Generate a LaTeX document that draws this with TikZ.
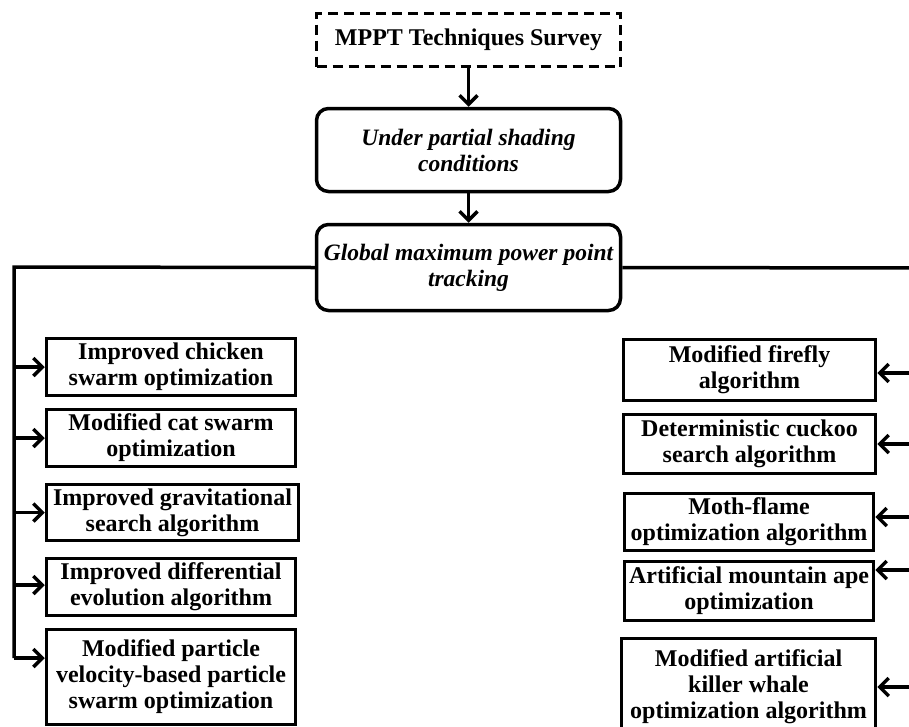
\documentclass[tikz,border=0pt]{standalone}
\usepackage{fontspec}
\setmainfont{Liberation Serif}
\usetikzlibrary{arrows.meta}
\begin{document}
\begin{tikzpicture}[x=1pt,y=-1pt,
  box/.style={draw, line width=3.5pt, align=center, inner sep=0pt, fill=white,
    font=\fontsize{24}{26}\selectfont\bfseries},
  rbox/.style={box, rounded corners=12pt, font=\fontsize{23.5}{26}\selectfont\bfseries\itshape},
  arr/.style={line width=3.5pt, -{Straight Barb[length=9pt,width=18pt]}},
  ln/.style={line width=3.5pt}]
\clip (0,0) rectangle (909,726);
\fill[white] (0,0) rectangle (909,726);

% top column
\node[box, dash pattern=on 10pt off 6pt, minimum width=304pt, minimum height=53pt] (mppt) at (468.5,40) {MPPT Techniques Survey};
\node[rbox, minimum width=304pt, minimum height=83pt] (under) at (468.5,150) {Under partial shading\\conditions};
\node[rbox, minimum width=304pt, minimum height=86pt] (glob) at (468.5,267.5) {Global maximum power point\\tracking};
\draw[arr] (mppt) -- (under);
\draw[arr] (under) -- (glob);

% left column
\node[box, minimum width=249pt, minimum height=57pt] (L1) at (171,367) {Improved chicken\\swarm optimization};
\node[box, minimum width=249pt, minimum height=57pt] (L2) at (171,438) {Modified cat swarm\\optimization};
\node[box, minimum width=252pt, minimum height=56pt] (L3) at (172.5,512.5) {Improved gravitational\\search algorithm};
\node[box, minimum width=249pt, minimum height=57pt] (L4) at (171,587) {Improved differential\\evolution algorithm};
\node[box, minimum width=249pt, minimum height=95pt] (L5) at (171,677) {Modified particle\\velocity-based particle\\swarm optimization};

% right column
\node[box, minimum width=252pt, minimum height=61pt] (R1) at (749.5,370) {Modified firefly\\algorithm};
\node[box, minimum width=252pt, minimum height=59pt] (R2) at (749.5,444) {Deterministic cuckoo\\search algorithm};
\node[box, minimum width=249pt, minimum height=57pt] (R3) at (749,522) {Moth-flame\\optimization algorithm};
\node[box, minimum width=249pt, minimum height=59pt] (R4) at (749,591) {Artificial mountain ape\\optimization};
\node[box, minimum width=254pt, minimum height=97pt] (R5) at (748.5,687) {Modified artificial\\killer whale\\optimization algorithm};

% left trunk
\coordinate (lt) at (14,267);
\coordinate (lb) at (14,658);
\draw[ln] (glob.west) -- (lt) -- (lb);
\draw[arr] (lt |- L1.west) -- (L1.west);
\draw[arr] (lt |- L2.west) -- (L2.west);
\draw[arr] (lt |- L3.west) -- (L3.west);
\draw[arr] ([yshift=2pt]lt |- L4.west) -- ([yshift=2pt]L4.west);
\draw[arr] (lb) -- ([yshift=19pt]L5.west);

% right trunk (off the page)
\coordinate (rt) at (925,268);
\draw[ln] (glob.east) -- (rt);
\draw[arr] ([xshift=50pt,yshift=-3pt]R1.east) -- ([yshift=-3pt]R1.east);
\draw[arr] ([xshift=50pt]R2.east) -- (R2.east);
\draw[arr] ([xshift=50pt,yshift=5pt]R3.east) -- ([yshift=5pt]R3.east);
\draw[arr] ([xshift=50pt,yshift=21pt]R4.east) -- ([yshift=21pt]R4.east);
\draw[arr] ([xshift=50pt]R5.east) -- (R5.east);
\end{tikzpicture}
\end{document}
